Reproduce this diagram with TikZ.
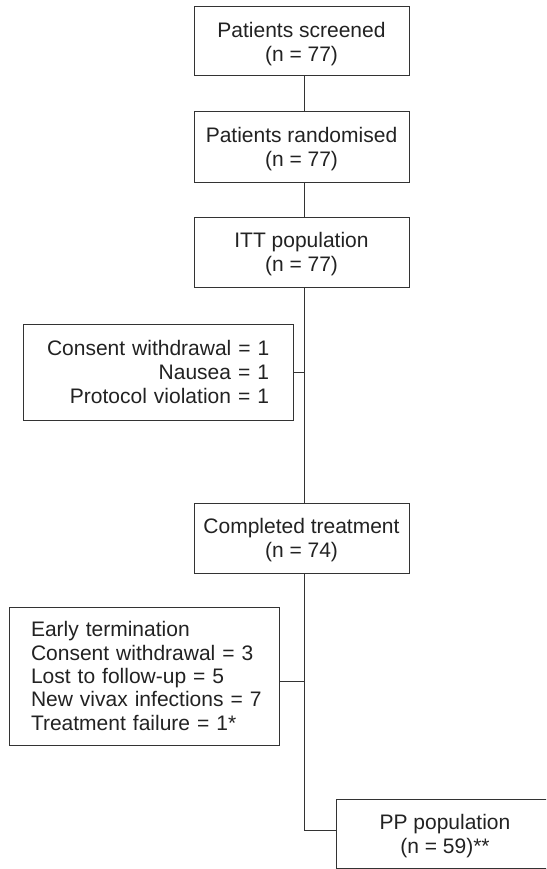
\documentclass[tikz,border=0pt]{standalone}
\usepackage{fontspec}
\setmainfont{Liberation Sans}
\usetikzlibrary{calc}
\definecolor{linegray}{HTML}{333333}
\definecolor{textgray}{HTML}{222222}
\tikzset{
  box/.style={draw=linegray, line width=1pt, text=textgray, inner sep=0pt,
    font=\fontsize{21}{24}\selectfont, align=center},
  conn/.style={draw=linegray, line width=1pt}
}
\begin{document}
\begin{tikzpicture}[x=1pt,y=-1pt]
\clip (0,0) rectangle (546,869);
\fill[white] (0,0) rectangle (546,869);
\coordinate (spine) at (304,0);
\node[box, minimum width=215pt, minimum height=69pt] (b1) at (301.5,41.5) {\rule{0pt}{20pt}Patients screened\\(n = 77)};
\node[box, minimum width=215pt, minimum height=70pt] (b2) at (301.5,147) {\rule{0pt}{20pt}Patients randomised\\(n = 77)};
\node[box, minimum width=215pt, minimum height=70pt] (b3) at (301.5,252) {\rule{0pt}{20pt}ITT population\\(n = 77)};
\node[box, minimum width=270pt, minimum height=96pt, inner xsep=24pt, text width=222pt, align=right] (c1) at (158,372) {\mbox{Consent withdrawal = 1}\\Nausea = 1\\Protocol violation = 1};
\node[box, minimum width=215pt, minimum height=70pt] (b4) at (301.5,538) {\rule{0pt}{20pt}Completed treatment\\(n = 74)};
\node[box, minimum width=270pt, minimum height=138pt, inner xsep=22pt, text width=226pt, align=left, font=\fontsize{21}{23.4}\selectfont] (e1) at (144,676) {Early termination\\Consent withdrawal = 3\\Lost to follow-up = 5\\\mbox{New vivax infections = 7}\\Treatment failure = 1*};
\node[box, minimum width=218pt, minimum height=69pt] (pp) at (445,833.5) {\rule{0pt}{20pt}PP population\\(n = 59)**};
\draw[conn] (b1.south -| spine) -- (b2.north -| spine);
\draw[conn] (b2.south -| spine) -- (b3.north -| spine);
\draw[conn] (b3.south -| spine) -- (b4.north -| spine);
\draw[conn] (c1.east) -- (c1.east -| spine);
\draw[conn] ([yshift=-5pt]e1.east) -- ([yshift=-5pt]e1.east -| spine);
\draw[conn] (b4.south -| spine) |- ([yshift=3.5pt]pp.west);
\end{tikzpicture}
\end{document}
